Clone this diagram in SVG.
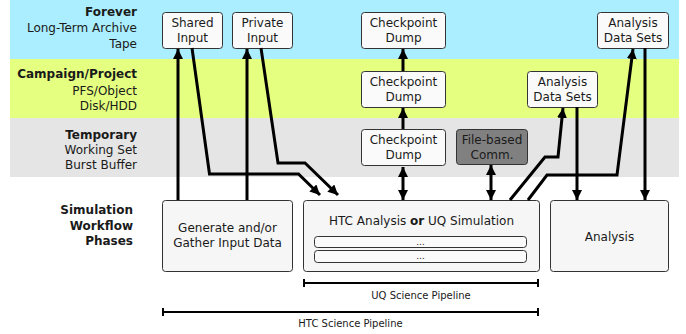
<svg xmlns="http://www.w3.org/2000/svg" width="686" height="334" viewBox="0 0 686 334">
<style>
text{font-family:"DejaVu Sans","Liberation Sans",sans-serif;fill:#1a1a1a}
.lbl{font-size:12px;text-anchor:end}
.b{font-weight:bold}
.bx{font-size:12px;text-anchor:middle}
.sm{font-size:10px;text-anchor:middle}
.dots{font-size:9px;text-anchor:middle}
.box{fill:#fafafa;stroke:#333;stroke-width:1}
.big{fill:#f6f6f6;stroke:#333;stroke-width:1}
.dark{fill:#808080;stroke:#333;stroke-width:1}
.c{fill:none;stroke:#000;stroke-width:3}
.br{fill:none;stroke:#000;stroke-width:2}
</style>
<defs>
<marker id="ah" viewBox="0 0 10 10" refX="10" refY="5" markerWidth="10" markerHeight="10" markerUnits="userSpaceOnUse" orient="auto-start-reverse">
<path d="M0,0 L10,5 L0,10 z" fill="#000"/>
</marker>
</defs>
<g id="bands">
<rect x="10" y="0" width="669" height="59" fill="#aaeeff"/>
<rect x="10" y="59" width="669" height="59" fill="#e5ff80"/>
<rect x="10" y="118" width="669" height="59" fill="#e5e5e5"/>
</g>
<g id="band-labels">
<text class="lbl b" x="137" y="16">Forever</text>
<text class="lbl" x="137" y="32">Long-Term Archive</text>
<text class="lbl" x="137" y="47.5">Tape</text>
<text class="lbl b" x="137" y="78">Campaign/Project</text>
<text class="lbl" x="137" y="94.5">PFS/Object</text>
<text class="lbl" x="137" y="110">Disk/HDD</text>
<text class="lbl b" x="137" y="138.5">Temporary</text>
<text class="lbl" x="137" y="153.5">Working Set</text>
<text class="lbl" x="137" y="169">Burst Buffer</text>
<text class="lbl b" x="133" y="214">Simulation</text>
<text class="lbl b" x="133" y="230">Workflow</text>
<text class="lbl b" x="133" y="245">Phases</text>
</g>
<g id="shared-input">
<rect class="box" x="162.5" y="12.5" width="60" height="36" rx="3"/>
<text class="bx" x="192.5" y="27">Shared</text>
<text class="bx" x="192.5" y="42">Input</text>
</g>
<g id="private-input">
<rect class="box" x="232.5" y="12.5" width="60" height="36" rx="3"/>
<text class="bx" x="262.5" y="27">Private</text>
<text class="bx" x="262.5" y="42">Input</text>
</g>
<g id="checkpoint-forever">
<rect class="box" x="361.5" y="12.5" width="84" height="36" rx="3"/>
<text class="bx" x="403.5" y="27">Checkpoint</text>
<text class="bx" x="403.5" y="42">Dump</text>
</g>
<g id="checkpoint-campaign">
<rect class="box" x="361.5" y="71.5" width="84" height="36" rx="3"/>
<text class="bx" x="403.5" y="86">Checkpoint</text>
<text class="bx" x="403.5" y="101">Dump</text>
</g>
<g id="checkpoint-temporary">
<rect class="box" x="361.5" y="129.5" width="84" height="36" rx="3"/>
<text class="bx" x="403.5" y="144">Checkpoint</text>
<text class="bx" x="403.5" y="159">Dump</text>
</g>
<g id="file-based-comm">
<rect class="dark" x="456.5" y="129.5" width="71" height="35" rx="3"/>
<text class="bx" x="492" y="144">File-based</text>
<text class="bx" x="492" y="158.5">Comm.</text>
</g>
<g id="analysis-data-campaign">
<rect class="box" x="527.5" y="71.5" width="70" height="36" rx="3"/>
<text class="bx" x="562.5" y="86">Analysis</text>
<text class="bx" x="562.5" y="101">Data Sets</text>
</g>
<g id="analysis-data-forever">
<rect class="box" x="597.5" y="12.5" width="71" height="36" rx="3"/>
<text class="bx" x="633" y="27">Analysis</text>
<text class="bx" x="633" y="42">Data Sets</text>
</g>
<g id="generate-input">
<rect class="big" x="162.5" y="200.5" width="130" height="71" rx="3"/>
<text class="bx" x="227.5" y="232">Generate and/or</text>
<text class="bx" x="227.5" y="247">Gather Input Data</text>
</g>
<g id="htc-uq">
<rect class="big" x="303.5" y="200.5" width="236" height="71" rx="3"/>
<text class="bx" x="421.5" y="225">HTC Analysis <tspan class="b">or</tspan> UQ Simulation</text>
<rect class="box" x="314.5" y="236.5" width="212" height="11" rx="3"/>
<text class="dots" x="420.5" y="244.5" fill="#333">...</text>
<rect class="box" x="314.5" y="250.5" width="212" height="12" rx="3"/>
<text class="dots" x="420.5" y="258.5" fill="#333">...</text>
</g>
<g id="analysis">
<rect class="big" x="550.5" y="200.5" width="118" height="71" rx="3"/>
<text class="bx" x="609.5" y="241">Analysis</text>
</g>
<g id="connectors">
<path class="c" d="M178,200 V49" marker-end="url(#ah)"/>
<path class="c" d="M247,200 V49" marker-end="url(#ah)"/>
<path class="c" d="M192,48 L209.5,174 H298.5 L320,195" marker-end="url(#ah)"/>
<path class="c" d="M261,48 L278,163 H305 L338,195" marker-end="url(#ah)"/>
<path class="c" d="M403,71 V49" marker-end="url(#ah)"/>
<path class="c" d="M403,129 V108" marker-end="url(#ah)"/>
<path class="c" d="M403,167 V200" marker-start="url(#ah)" marker-end="url(#ah)"/>
<path class="c" d="M491,165 V200" marker-start="url(#ah)" marker-end="url(#ah)"/>
<path class="c" d="M510,200 L545,157 H558 L563,108" marker-end="url(#ah)"/>
<path class="c" d="M528,200 L547,175 H617 L633,49" marker-end="url(#ah)"/>
<path class="c" d="M577,107 V200" marker-end="url(#ah)"/>
<path class="c" d="M645,48 V200" marker-end="url(#ah)"/>
</g>
<g id="pipelines">
<path class="br" d="M304,283 H538 M304,279 V287 M538,279 V287"/>
<text class="sm" x="421" y="298.5">UQ Science Pipeline</text>
<path class="br" d="M163,312 H538 M163,308 V316 M538,308 V316"/>
<text class="sm" x="350.5" y="326.5">HTC Science Pipeline</text>
</g>
</svg>
